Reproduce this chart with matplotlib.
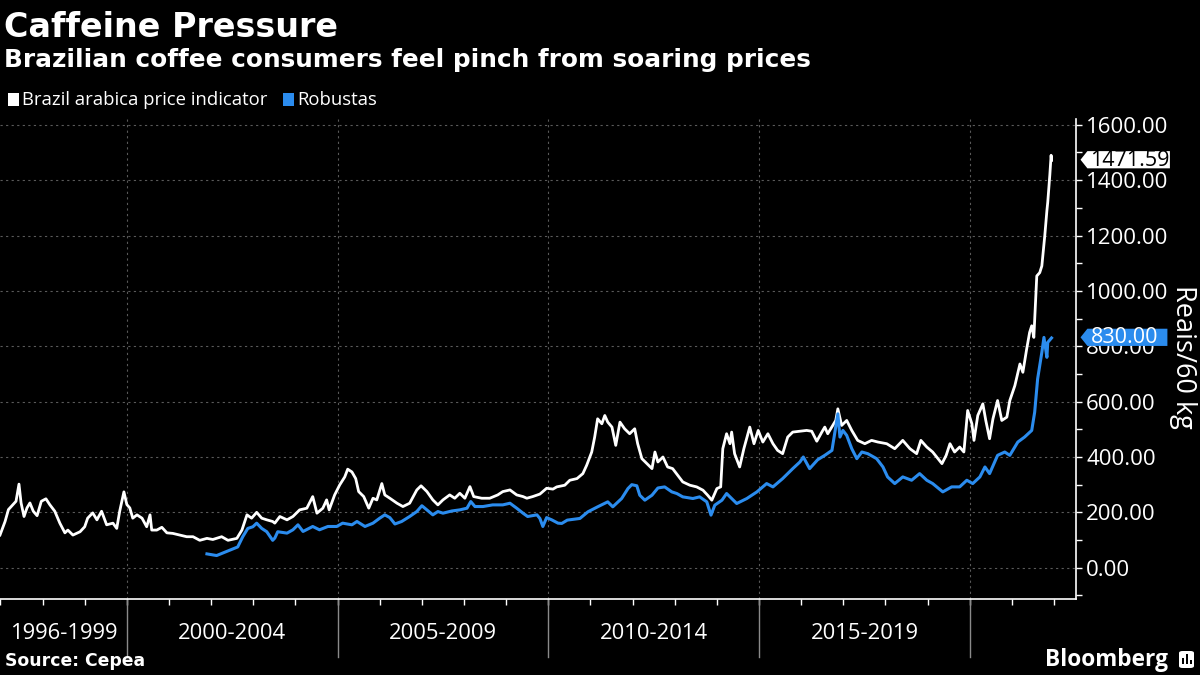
import matplotlib.pyplot as plt
from matplotlib.path import Path
from matplotlib.patches import Rectangle, FancyBboxPatch
from matplotlib.ticker import MultipleLocator

# values (decimal years, reais per 60 kg bag)
arabica_t = [1996.99, 1997.11, 1997.19, 1997.30, 1997.37, 1997.44, 1997.49, 1997.56, 1997.63, 1997.70,
             1997.78, 1997.87, 1997.97, 1998.08, 1998.17, 1998.29, 1998.41, 1998.53, 1998.60, 1998.72,
             1998.89, 1999.00, 1999.07, 1999.19, 1999.29, 1999.40, 1999.52, 1999.67, 1999.76, 1999.83,
             1999.93, 2000.00, 2000.07, 2000.14, 2000.24, 2000.36, 2000.47, 2000.55, 2000.59, 2000.71,
             2000.83, 2000.95, 2001.09, 2001.26, 2001.42, 2001.57, 2001.73, 2001.90, 2002.04, 2002.25,
             2002.40, 2002.61, 2002.73, 2002.85, 2002.96, 2003.08, 2003.20, 2003.32, 2003.46, 2003.51,
             2003.63, 2003.80, 2003.94, 2004.10, 2004.27, 2004.41, 2004.51, 2004.65, 2004.74, 2004.80,
             2004.93, 2005.05, 2005.17, 2005.24, 2005.34, 2005.43, 2005.50, 2005.62, 2005.74, 2005.84,
             2005.93, 2006.05, 2006.12, 2006.24, 2006.41, 2006.55, 2006.71, 2006.88, 2006.98, 2007.12,
             2007.26, 2007.38, 2007.50, 2007.66, 2007.78, 2007.90, 2008.02, 2008.14, 2008.23, 2008.42,
             2008.61, 2008.80, 2008.92, 2009.09, 2009.25, 2009.40, 2009.49, 2009.63, 2009.80, 2009.96,
             2010.11, 2010.20, 2010.39, 2010.51, 2010.68, 2010.82, 2010.91, 2011.03, 2011.10, 2011.17,
             2011.27, 2011.34, 2011.41, 2011.51, 2011.60, 2011.70, 2011.81, 2011.93, 2012.05, 2012.12,
             2012.22, 2012.34, 2012.46, 2012.53, 2012.60, 2012.72, 2012.83, 2012.95, 2013.07, 2013.19,
             2013.36, 2013.52, 2013.67, 2013.78, 2013.88, 2014.00, 2014.09, 2014.14, 2014.23, 2014.31,
             2014.35, 2014.42, 2014.54, 2014.64, 2014.78, 2014.88, 2014.98, 2015.09, 2015.21, 2015.33,
             2015.44, 2015.56, 2015.68, 2015.80, 2015.97, 2016.13, 2016.25, 2016.37, 2016.49, 2016.56,
             2016.63, 2016.75, 2016.82, 2016.87, 2016.96, 2017.08, 2017.20, 2017.34, 2017.51, 2017.67,
             2017.82, 2018.03, 2018.22, 2018.41, 2018.58, 2018.74, 2018.84, 2018.98, 2019.12, 2019.34,
             2019.44, 2019.53, 2019.64, 2019.76, 2019.86, 2019.95, 2020.05, 2020.10, 2020.19, 2020.31,
             2020.38, 2020.47, 2020.55, 2020.66, 2020.76, 2020.88, 2020.95, 2021.07, 2021.19, 2021.26,
             2021.35, 2021.42, 2021.47, 2021.52, 2021.57, 2021.59, 2021.66, 2021.71, 2021.78, 2021.83,
             2021.85, 2021.90, 2021.93, 2021.94]
arabica_v = [118, 167, 210, 228, 240, 302, 234, 185, 216, 234,
             204, 188, 240, 249, 228, 204, 161, 126, 136, 118,
             130, 148, 179, 198, 173, 204, 155, 161, 142, 204,
             274, 228, 216, 179, 191, 179, 148, 191, 136, 136,
             146, 126, 124, 118, 112, 112, 99, 106, 102, 112,
             99, 106, 136, 191, 179, 200, 179, 173, 167, 161,
             185, 173, 185, 209, 215, 257, 197, 215, 245, 209,
             263, 299, 328, 356, 346, 322, 275, 257, 215, 251,
             245, 304, 263, 251, 233, 221, 233, 281, 296, 275,
             245, 227, 245, 263, 251, 269, 251, 293, 257, 251,
             251, 263, 275, 281, 263, 257, 251, 257, 266, 287,
             284, 292, 298, 316, 322, 340, 370, 418, 472, 538,
             520, 550, 526, 508, 442, 526, 502, 484, 502, 448,
             394, 376, 358, 418, 382, 400, 364, 358, 334, 310,
             298, 292, 280, 262, 244, 286, 292, 430, 484, 448,
             490, 412, 364, 430, 508, 448, 496, 454, 484, 448,
             424, 412, 472, 490, 493, 496, 493, 457, 490, 508,
             484, 514, 532, 574, 514, 532, 496, 460, 448, 460,
             454, 448, 430, 460, 430, 412, 460, 436, 418, 376,
             406, 448, 418, 436, 418, 568, 520, 460, 550, 592,
             532, 466, 538, 604, 532, 544, 604, 658, 736, 706,
             790, 850, 874, 832, 994, 1054, 1066, 1090, 1200, 1290,
             1320, 1420, 1490, 1471.59]

robusta_t = [2001.90, 2002.13, 2002.44, 2002.63, 2002.75, 2002.87, 2002.99, 2003.08, 2003.20, 2003.32,
             2003.46, 2003.51, 2003.58, 2003.80, 2003.94, 2004.06, 2004.18, 2004.41, 2004.57, 2004.77,
             2004.98, 2005.12, 2005.34, 2005.46, 2005.65, 2005.84, 2006.00, 2006.12, 2006.24, 2006.36,
             2006.52, 2006.71, 2006.88, 2007.00, 2007.12, 2007.26, 2007.38, 2007.50, 2007.71, 2007.90,
             2008.07, 2008.16, 2008.26, 2008.45, 2008.68, 2008.92, 2009.09, 2009.25, 2009.40, 2009.51,
             2009.73, 2009.80, 2009.87, 2009.96, 2010.08, 2010.23, 2010.32, 2010.45, 2010.75, 2010.94,
             2011.17, 2011.41, 2011.53, 2011.74, 2011.89, 2011.98, 2012.10, 2012.17, 2012.29, 2012.46,
             2012.60, 2012.76, 2012.93, 2013.05, 2013.19, 2013.43, 2013.59, 2013.76, 2013.86, 2013.95,
             2014.12, 2014.23, 2014.35, 2014.47, 2014.71, 2014.95, 2015.18, 2015.33, 2015.56, 2015.80,
             2015.97, 2016.05, 2016.20, 2016.39, 2016.56, 2016.73, 2016.80, 2016.87, 2016.92, 2016.99,
             2017.08, 2017.20, 2017.32, 2017.44, 2017.58, 2017.79, 2017.94, 2018.05, 2018.22, 2018.41,
             2018.62, 2018.81, 2018.98, 2019.12, 2019.36, 2019.57, 2019.76, 2019.93, 2020.07, 2020.24,
             2020.36, 2020.47, 2020.66, 2020.83, 2020.95, 2021.14, 2021.30, 2021.47, 2021.54, 2021.61,
             2021.71, 2021.76, 2021.83, 2021.85, 2021.94]
robusta_v = [50, 44, 63, 75, 112, 142, 148, 161, 142, 130,
             99, 107, 130, 125, 137, 155, 131, 149, 137, 149,
             149, 161, 155, 167, 149, 161, 179, 191, 181, 158,
             167, 185, 203, 224, 209, 191, 203, 197, 205, 209,
             215, 239, 221, 221, 227, 227, 233, 215, 197, 185,
             191, 178, 149, 181, 173, 161, 160, 172, 178, 202,
             220, 238, 220, 250, 286, 300, 296, 262, 244, 262,
             288, 292, 274, 268, 256, 250, 256, 238, 190, 226,
             244, 268, 250, 232, 250, 274, 304, 292, 322, 358,
             382, 400, 358, 390, 406, 424, 490, 556, 472, 496,
             478, 430, 394, 418, 412, 394, 364, 328, 304, 328,
             316, 340, 316, 304, 274, 292, 292, 316, 304, 328,
             364, 340, 406, 418, 406, 454, 472, 496, 562, 682,
             778, 832, 760, 814, 830]

period_edges = [2000, 2005, 2010, 2015, 2020]
period_labels = ["1996-1999", "2000-2004", "2005-2009", "2010-2014", "2015-2019"]
year_ticks = list(range(1997, 2023))
y_ticks = [0, 200, 400, 600, 800, 1000, 1200, 1400, 1600]

BLUE = "#2b8cee"
GRID = "#5a5a5a"
plt.rcParams['font.family'] = ['Open Sans', 'DejaVu Sans']

fig = plt.figure(figsize=(12, 6.75), dpi=100, facecolor="black")
ax = fig.add_axes([0.0, 0.113, 0.897, 0.7103])
ax.set_facecolor("black")
ax.set_xlim(1996.99, 2022.53)
ax.set_ylim(-112, 1620)

for v in y_ticks:
    ax.axhline(v, color=GRID, lw=0.8, ls=(0, (2, 3)), zorder=0)
for e in period_edges:
    ax.axvline(e, color=GRID, lw=0.8, ls=(0, (2, 3)), zorder=0)

ax.plot(arabica_t, arabica_v, color="white", lw=2.0, zorder=3)
ax.plot(robusta_t, robusta_v, color=BLUE, lw=2.2, zorder=4)

# axes styling
for side in ["left", "top"]:
    ax.spines[side].set_visible(False)
for side in ["right", "bottom"]:
    ax.spines[side].set_color("white")
    ax.spines[side].set_linewidth(1.2)

ax.set_xticks(year_ticks)
ax.set_xticklabels([])
ax.tick_params(axis="x", direction="out", length=4, width=1, color="white")

ax.yaxis.tick_right()
ax.set_yticks(y_ticks)
ax.set_yticklabels([f"{v:.2f}" for v in y_ticks])
ax.yaxis.set_minor_locator(MultipleLocator(100))
ax.tick_params(axis="y", which="both", direction="out", length=4, width=1,
               color="white", labelcolor="white", labelsize=16, pad=3)

# period separators and labels under the axis
xt = ax.get_xaxis_transform()
for e in period_edges:
    ax.plot([e, e], [0, -0.122], transform=xt, clip_on=False, color="#8a8a8a", lw=1)
bounds = [ax.get_xlim()[0]] + period_edges
for a, b, lab in zip(bounds[:-1], bounds[1:], period_labels):
    ax.text((a + b) / 2, -0.072, lab, transform=xt, ha="center", va="center",
            color="white", fontsize=15.8)


# last-value tags on the right axis
def make_tag(min_w):
    def tag(x0, y0, width, height, mutation_size):
        h = height
        y0, y1 = y0 + 0.12 * h, y0 + height - 0.06 * h
        x0 = x0 - 3
        x1 = max(x0 + width + 3, x0 + min_w)
        ym = (y0 + y1) / 2
        tip = 0.4 * (y1 - y0)
        verts = [(x0 - tip, ym), (x0, y1), (x1, y1), (x1, y0), (x0, y0), (x0 - tip, ym)]
        return Path(verts, closed=True)
    return tag


for val, fc, tc in [(arabica_v[-1], "white", "black"), (robusta_v[-1], BLUE, "white")]:
    ax.annotate(f"{val:.2f}", xy=(1, val), xycoords=("axes fraction", "data"),
                xytext=(14, 0), textcoords="offset pixels", ha="left", va="center",
                color=tc, fontsize=15.5, zorder=6,
                bbox=dict(boxstyle=make_tag(80), fc=fc, ec="none"))

# titles, legend, footer
fig.text(0.003, 0.945, "Caffeine Pressure", color="white", fontsize=24,
         fontweight="bold", family="DejaVu Sans")
fig.text(0.003, 0.9, "Brazilian coffee consumers feel pinch from soaring prices",
         color="white", fontsize=17.8, fontweight="bold", family="DejaVu Sans")

fig.add_artist(Rectangle((8 / 1200, 1 - 106 / 675), 11 / 1200, 13 / 675,
                         transform=fig.transFigure, fc="white", ec="none"))
fig.text(22 / 1200, 1 - 100 / 675, "Brazil arabica price indicator", color="white",
         fontsize=13.3, va="center")
fig.add_artist(Rectangle((283 / 1200, 1 - 106 / 675), 11 / 1200, 13 / 675,
                         transform=fig.transFigure, fc=BLUE, ec="none"))
fig.text(297 / 1200, 1 - 100 / 675, "Robustas", color="white", fontsize=13.3, va="center")

fig.text(1183 / 1200, 1 - 357 / 675, "Reais/60 kg", rotation=270, color="white",
         fontsize=19.5, ha="center", va="center")

fig.text(0.004, 1 - 661 / 675, "Source: Cepea", color="white", fontsize=12.4,
         fontweight="bold", family="DejaVu Sans", va="center")
fig.text(1168 / 1200, 1 - 660 / 675, "Bloomberg", color="white", fontsize=16.3,
         fontweight="bold", ha="right", va="center")
fig.add_artist(FancyBboxPatch((1179 / 1200, 1 - 668 / 675), 15 / 1200, 17 / 675,
                              boxstyle="round,pad=0,rounding_size=0.003",
                              transform=fig.transFigure, fc="white", ec="none"))
for bx, bh in [(1182, 6), (1186, 10), (1190, 4)]:
    fig.add_artist(Rectangle((bx / 1200, 1 - 664 / 675), 2 / 1200, bh / 675,
                             transform=fig.transFigure, fc="black", ec="none"))

fig.savefig("out.png", dpi=100, facecolor="black")
